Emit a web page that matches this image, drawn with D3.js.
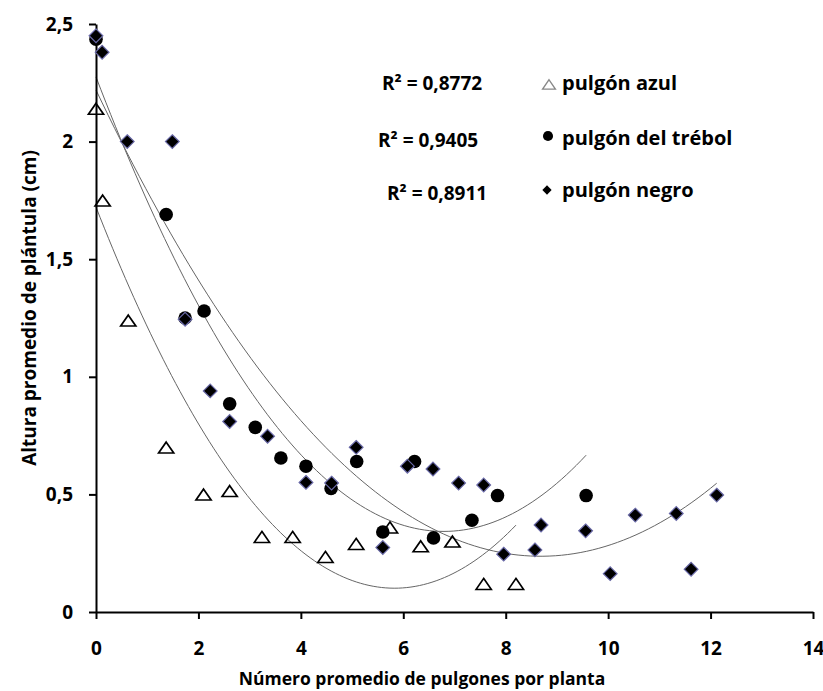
<!DOCTYPE html>
<html><head><meta charset="utf-8">
<script src="https://cdn.jsdelivr.net/npm/d3@7"></script>
<style>body{margin:0;background:#fff}text{font-family:"Open Sans",Lato,sans-serif;font-weight:bold;fill:#000}</style>
</head><body><svg id="c" width="823" height="691"></svg>
<script>
const xTicks=[0,2,4,6,8,10,12,14];
const yTicks=[0,0.5,1,1.5,2,2.5];
const yTickLabels=["0","0,5","1","1,5","2","2,5"];
const azulX=[0,0.13,0.63,1.37,2.1,2.61,3.24,3.84,4.48,5.08,5.74,6.34,6.96,7.57,8.2];
const azulY=[2.14,1.75,1.24,0.70,0.50,0.515,0.32,0.32,0.235,0.29,0.36,0.28,0.30,0.12,0.12];
const trebolX=[0,1.37,1.74,2.11,2.61,3.11,3.61,4.1,4.59,5.09,5.6,6.22,6.59,7.34,7.84,9.57];
const trebolY=[2.435,1.69,1.25,1.28,0.885,0.785,0.655,0.62,0.525,0.64,0.34,0.64,0.315,0.39,0.495,0.495];
const negroX=[0,0.12,0.61,1.49,1.74,2.23,2.61,3.35,4.1,4.6,5.08,5.6,6.08,6.58,7.08,7.57,7.96,8.57,8.69,9.56,10.04,10.53,11.33,11.62,12.12];
const negroY=[2.45,2.38,2.0,2.0,1.245,0.94,0.81,0.747,0.551,0.548,0.70,0.274,0.62,0.608,0.548,0.54,0.246,0.264,0.37,0.345,0.163,0.412,0.419,0.182,0.497];
const r2Labels=["R² = 0,8772","R² = 0,9405","R² = 0,8911"];
const seriesNames=["pulgón azul","pulgón del trébol","pulgón negro"];

const svg=d3.select("#c");
const x=d3.scaleLinear().domain([0,14]).range([96,813]);
const y=d3.scaleLinear().domain([0,2.5]).range([612,24]);

function quadFit(xs,ys){
  let s=[0,0,0,0,0],t=[0,0,0];
  xs.forEach((xv,i)=>{let p=1;for(let k=0;k<5;k++){s[k]+=p;if(k<3)t[k]+=p*ys[i];p*=xv;}});
  const A=[[s[0],s[1],s[2],t[0]],[s[1],s[2],s[3],t[1]],[s[2],s[3],s[4],t[2]]];
  for(let i=0;i<3;i++){for(let j=i+1;j<3;j++){const f=A[j][i]/A[i][i];for(let k=i;k<4;k++)A[j][k]-=f*A[i][k];}}
  const c=[0,0,0];
  for(let i=2;i>=0;i--){let v=A[i][3];for(let k=i+1;k<3;k++)v-=A[i][k]*c[k];c[i]=v/A[i][i];}
  return c;
}
function trend(xs,ys){
  const c=quadFit(xs,ys);const lo=d3.min(xs),hi=d3.max(xs);
  const pts=d3.range(0,101).map(i=>{const xv=lo+(hi-lo)*i/100;return [xv,c[0]+c[1]*xv+c[2]*xv*xv];});
  svg.append("path").attr("d",d3.line().x(d=>x(d[0])).y(d=>y(d[1]))(pts))
    .attr("fill","none").attr("stroke","#666").attr("stroke-width",1);
}
trend(azulX,azulY);trend(trebolX,trebolY);trend(negroX,negroY);

// axes
const ax=svg.append("g").attr("transform","translate(0,612)").call(d3.axisBottom(x).tickValues(xTicks).tickSize(7).tickSizeOuter(0));
const ay=svg.append("g").attr("transform","translate(96,0)").call(d3.axisLeft(y).tickValues(yTicks).tickFormat((d,i)=>yTickLabels[i]).tickSize(7).tickSizeOuter(0));
[ax,ay].forEach(g=>{g.select(".domain").attr("stroke","#000").attr("stroke-width",2);
  g.selectAll(".tick line").attr("stroke","#000").attr("stroke-width",2);
  g.selectAll(".tick text").attr("font-size",19).attr("font-family","Open Sans").attr("font-weight","bold").attr("fill","#000");});
ax.selectAll(".tick text").attr("dy","1.75em");
ay.selectAll(".tick text").attr("dx",-13);

const tri=d3.symbol().type(d3.symbolTriangle).size(70);
const circ=d3.symbol().type(d3.symbolCircle).size(145);
const dia=d3.symbol().type(d3.symbolDiamond2).size(120);

svg.append("g").selectAll("path").data(trebolX).join("path")
  .attr("d",circ).attr("transform",(d,i)=>`translate(${x(d)},${y(trebolY[i])})`).attr("fill","#000");
svg.append("g").selectAll("path").data(negroX).join("path")
  .attr("d",dia).attr("transform",(d,i)=>`translate(${x(d)},${y(negroY[i])})`).attr("fill","#000").attr("stroke","#6a6aa8").attr("stroke-width",1.2);
svg.append("g").selectAll("path").data(azulX).join("path")
  .attr("d",tri).attr("transform",(d,i)=>`translate(${x(d)},${y(azulY[i])+2}) scale(1.2,1)`).attr("fill","none").attr("stroke","#000").attr("stroke-width",1.5);

// legend
const ry=[90,147,200], rx=[382,378,387];
r2Labels.forEach((t,i)=>svg.append("text").attr("x",rx[i]).attr("y",ry[i]).attr("font-size",19).text(t));
const ly=[90,145,197];
seriesNames.forEach((t,i)=>svg.append("text").attr("x",562).attr("y",ly[i]).attr("font-size",20).text(t));
svg.append("path").attr("d",d3.symbol().type(d3.symbolTriangle).size(50)).attr("transform","translate(549,86) scale(1.2,1)").attr("fill","none").attr("stroke","#888").attr("stroke-width",1.2);
svg.append("path").attr("d",d3.symbol().type(d3.symbolCircle).size(80)).attr("transform","translate(548,136)").attr("fill","#000");
svg.append("path").attr("d",d3.symbol().type(d3.symbolDiamond2).size(55)).attr("transform","translate(547,190)").attr("fill","#000");

svg.append("text").attr("x",422).attr("y",685).attr("text-anchor","middle").attr("font-size",17.5).text("Número promedio de pulgones por planta");
svg.append("text").attr("transform","translate(36,308) rotate(-90)").attr("text-anchor","middle").attr("font-size",19).text("Altura promedio de plántula (cm)");
</script></body></html>
